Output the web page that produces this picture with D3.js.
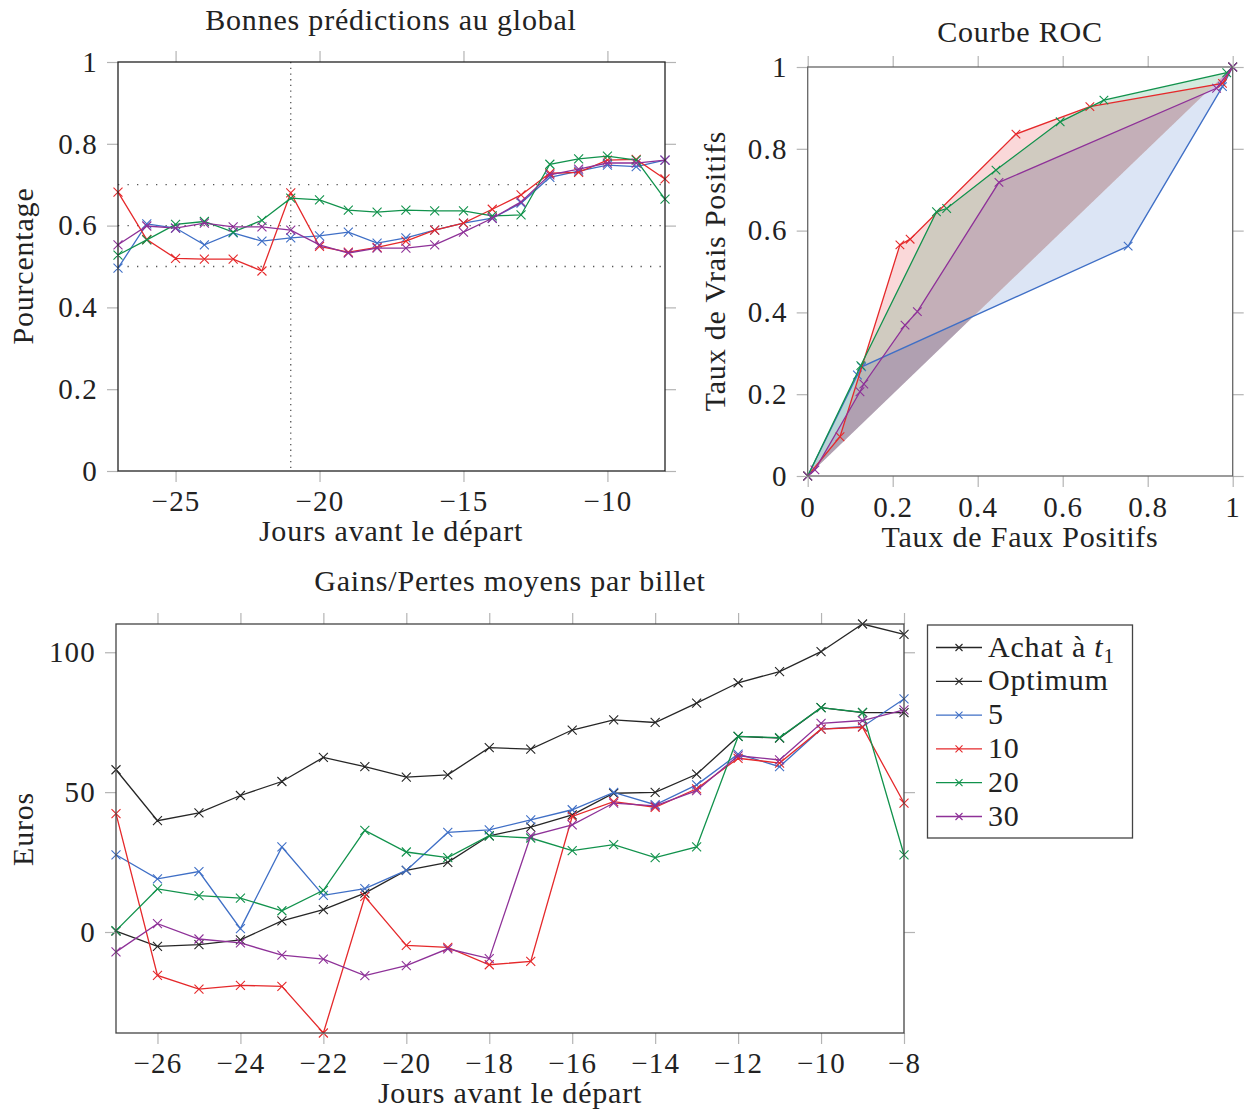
<!DOCTYPE html>
<html>
<head>
<meta charset="utf-8">
<script src="https://cdn.jsdelivr.net/npm/d3@7/dist/d3.min.js"></script>
<style>
  html, body { margin: 0; padding: 0; background: #fff; }
  svg { display: block; }
  text { font-family: "Liberation Serif", "DejaVu Serif", serif; fill: #222; }
</style>
</head>
<body>
<svg id="fig" width="1245" height="1109"></svg>
<script>
// ---- Data -----------------------------------------------------------------
const days = [-27, -26, -25, -24, -23, -22, -21, -20, -19, -18,
              -17, -16, -15, -14, -13, -12, -11, -10, -9, -8];

// Share of correct predictions per model window (5, 10, 20, 30)
const acc5  = [0.496, 0.604, 0.594, 0.553, 0.582, 0.562, 0.570, 0.575, 0.584, 0.557,
               0.570, 0.589, 0.606, 0.618, 0.655, 0.718, 0.733, 0.748, 0.744, 0.760];
const acc10 = [0.682, 0.566, 0.520, 0.518, 0.518, 0.489, 0.680, 0.549, 0.535, 0.547,
               0.562, 0.589, 0.606, 0.640, 0.675, 0.728, 0.730, 0.760, 0.762, 0.714];
const acc20 = [0.528, 0.565, 0.603, 0.610, 0.584, 0.613, 0.667, 0.663, 0.638, 0.633,
               0.638, 0.636, 0.636, 0.624, 0.626, 0.750, 0.763, 0.770, 0.760, 0.665];
const acc30 = [0.553, 0.599, 0.594, 0.606, 0.597, 0.597, 0.589, 0.553, 0.533, 0.545,
               0.545, 0.553, 0.584, 0.618, 0.658, 0.724, 0.738, 0.753, 0.753, 0.760];
const accRefLevels = [0.5, 0.6, 0.7];
const accRefDay = -21;

// ROC points (false positive rate, true positive rate)
const roc5  = [[0, 0], [0.117, 0.247], [0.127, 0.267], [0.754, 0.562], [0.976, 0.952], [1, 1]];
const roc10 = [[0, 0], [0.076, 0.096], [0.217, 0.565], [0.241, 0.579], [0.490, 0.836],
               [0.664, 0.903], [0.976, 0.960], [1, 1]];
const roc20 = [[0, 0], [0.125, 0.270], [0.303, 0.646], [0.327, 0.654], [0.443, 0.748],
               [0.594, 0.866], [0.697, 0.919], [0.986, 0.986], [1, 1]];
const roc30 = [[0, 0], [0.017, 0.015], [0.123, 0.206], [0.132, 0.225], [0.229, 0.369],
               [0.258, 0.402], [0.450, 0.718], [0.962, 0.948], [1, 1]];

// Mean gain / loss per ticket, in euros
const gainAchat   = [0.3, -5.1, -4.5, -2.8, 4.0, 8.0, 13.9, 22.0, 24.9, 34.4,
                     37.5, 41.9, 49.6, 49.9, 56.4, 69.9, 69.3, 80.2, 78.4, 78.4];
const gainOptimum = [58.0, 39.8, 42.6, 48.8, 53.8, 62.4, 59.1, 55.4, 56.2, 65.9,
                     65.4, 72.2, 75.8, 74.9, 81.8, 89.1, 93.1, 100.2, 110.1, 106.4];
const gain5  = [27.6, 19.0, 21.6, 1.2, 30.4, 13.1, 15.5, 22.0, 35.6, 36.5,
                40.1, 43.7, 49.9, 45.5, 52.6, 63.6, 59.1, 72.5, 73.4, 83.3];
const gain10 = [42.3, -15.5, -20.4, -19.1, -19.4, -36.1, 12.7, -4.8, -5.5, -11.7,
                -10.5, 41.3, 46.6, 44.6, 51.2, 62.1, 60.4, 72.5, 73.2, 46.1];
const gain20 = [0.5, 15.4, 13.0, 12.1, 7.6, 14.9, 36.3, 28.6, 26.6, 34.4,
                33.6, 29.1, 31.2, 26.6, 30.4, 69.9, 69.5, 80.2, 78.5, 27.6];
const gain30 = [-7.1, 3.0, -2.5, -3.9, -8.3, -9.7, -15.6, -12.0, -6.0, -9.5,
                34.4, 38.3, 46.1, 45.1, 50.5, 63.0, 61.5, 74.6, 75.6, 79.4];

// Labels and ticks
const accTitle = "Bonnes prédictions au global";
const accYLabel = "Pourcentage";
const dayLabel = "Jours avant le départ";
const accXTicks = [-25, -20, -15, -10];
const unitTicks = [0, 0.2, 0.4, 0.6, 0.8, 1];
const rocTitle = "Courbe ROC";
const rocXLabel = "Taux de Faux Positifs";
const rocYLabel = "Taux de Vrais Positifs";
const gainTitle = "Gains/Pertes moyens par billet";
const gainYLabel = "Euros";
const gainXTicks = [-26, -24, -22, -20, -18, -16, -14, -12, -10, -8];
const gainYTicks = [0, 50, 100];
const seriesNames = ["5", "10", "20", "30"];

// ---- Style ----------------------------------------------------------------
const C = { black: "#262626", blue: "#3f6fc6", red: "#e5292b", green: "#11924c", purple: "#8e3198" };
const FS = 30;          // titles, axis labels, legend
const FS_TICK = 29;     // tick labels
const LS = "0.8px";     // letter spacing for a wider, book-like text
const TICK = 11;

const svg = d3.select("#fig");
const fmtNum = d => {
  const s = String(+d.toFixed(2));
  return d < 0 ? "\u2212" + s.slice(1) : s;
};

function crossPath(px, py, r) {
  return `M${px - r},${py - r}L${px + r},${py + r}M${px - r},${py + r}L${px + r},${py - r}`;
}

// Frame with outward ticks mirrored on all four sides; labels left and bottom
function frame(g, x, y, xt, yt, frameColor, padX) {
  const [x0, x1] = x.range();
  const [y0, y1] = y.range();
  const tickStyle = sel => {
    sel.select(".domain").remove();
    sel.selectAll(".tick line").attr("stroke", "#b4b4b4").attr("stroke-width", 1.2);
    sel.selectAll(".tick text").style("font-size", FS_TICK + "px").attr("fill", "#222")
       .style("letter-spacing", "1.2px")
       .style("font-family", '"Liberation Serif", serif');
  };
  g.append("g").attr("transform", `translate(0,${y0})`)
    .call(d3.axisBottom(x).tickValues(xt).tickSize(TICK).tickPadding(padX).tickFormat(fmtNum)).call(tickStyle);
  g.append("g").attr("transform", `translate(0,${y1})`)
    .call(d3.axisTop(x).tickValues(xt).tickSize(TICK).tickFormat("")).call(tickStyle);
  g.append("g").attr("transform", `translate(${x0},0)`)
    .call(d3.axisLeft(y).tickValues(yt).tickSize(TICK).tickPadding(9).tickFormat(fmtNum)).call(tickStyle);
  g.append("g").attr("transform", `translate(${x1},0)`)
    .call(d3.axisRight(y).tickValues(yt).tickSize(TICK).tickFormat("")).call(tickStyle);
  g.append("rect")
    .attr("x", x0).attr("y", y1).attr("width", x1 - x0).attr("height", y0 - y1)
    .attr("fill", "none").attr("stroke", frameColor).attr("stroke-width", 1.3);
}

function series(g, pts, x, y, color, r) {
  const line = d3.line().x(d => x(d[0])).y(d => y(d[1]));
  g.append("path").datum(pts).attr("d", line)
    .attr("fill", "none").attr("stroke", color).attr("stroke-width", 1.3);
  g.append("path")
    .attr("d", pts.map(d => crossPath(x(d[0]), y(d[1]), r)).join(""))
    .attr("fill", "none").attr("stroke", color).attr("stroke-width", 1.1);
}

function label(g, txt, px, py, rotate) {
  const t = g.append("text").attr("text-anchor", "middle")
    .style("font-size", FS + "px").style("letter-spacing", LS).text(txt);
  if (rotate) t.attr("transform", `translate(${px},${py}) rotate(-90)`);
  else t.attr("x", px).attr("y", py);
  return t;
}

// ---- Top left: accuracy over time -----------------------------------------
{
  const g = svg.append("g");
  const x = d3.scaleLinear().domain([days[0], days[days.length - 1]]).range([118, 665]);
  const y = d3.scaleLinear().domain([0, 1]).range([471, 62]);

  g.append("g").selectAll("line").data(accRefLevels).join("line")
    .attr("x1", 118).attr("x2", 665).attr("y1", d => y(d)).attr("y2", d => y(d))
    .attr("stroke", "#555").attr("stroke-width", 1.3).attr("stroke-dasharray", "1.3,8.2");
  g.append("line")
    .attr("x1", x(accRefDay)).attr("x2", x(accRefDay)).attr("y1", y(1)).attr("y2", y(0))
    .attr("stroke", "#555").attr("stroke-width", 1.3).attr("stroke-dasharray", "1.3,4.4");

  [[acc5, C.blue], [acc10, C.red], [acc20, C.green], [acc30, C.purple]].forEach(([vals, col]) =>
    series(g, days.map((d, i) => [d, vals[i]]), x, y, col, 4.5));

  frame(g, x, y, accXTicks, unitTicks, "#222", 8);
  label(g, accTitle, 391, 30);
  label(g, dayLabel, 391, 541);
  label(g, accYLabel, 33, 266, true);
}

// ---- Top right: ROC curves ------------------------------------------------
{
  const g = svg.append("g");
  const x = d3.scaleLinear().domain([0, 1]).range([807.7, 1232.7]);
  const y = d3.scaleLinear().domain([0, 1]).range([476, 67]);
  const area = d3.line().x(d => x(d[0])).y(d => y(d[1]));

  [[roc5, C.blue], [roc10, C.red], [roc20, C.green], [roc30, C.purple]].forEach(([pts, col]) => {
    g.append("path").datum(pts).attr("d", d => area(d) + "Z")
      .attr("fill", col).attr("fill-opacity", 0.18).attr("stroke", "none");
  });
  [[roc5, C.blue], [roc10, C.red], [roc20, C.green], [roc30, C.purple]].forEach(([pts, col]) =>
    series(g, pts, x, y, col, 4.3));

  frame(g, x, y, unitTicks, unitTicks, "#666", 9);
  label(g, rocTitle, 1020, 42);
  label(g, rocXLabel, 1020, 547);
  label(g, rocYLabel, 725, 271, true);
}

// ---- Bottom: mean gains / losses --------------------------------------------
{
  const g = svg.append("g");
  const all = [gainAchat, gainOptimum, gain5, gain10, gain20, gain30].flat();
  const x = d3.scaleLinear().domain([days[0], days[days.length - 1]]).range([116, 904]);
  const y = d3.scaleLinear().domain([d3.min(all), d3.max(all)]).range([1033, 624]);

  const gainSeries = [
    ["Achat", gainAchat, C.black], ["Optimum", gainOptimum, C.black],
    [seriesNames[0], gain5, C.blue], [seriesNames[1], gain10, C.red],
    [seriesNames[2], gain20, C.green], [seriesNames[3], gain30, C.purple]
  ];
  gainSeries.forEach(([, vals, col]) =>
    series(g, days.map((d, i) => [d, vals[i]]), x, y, col, 4.5));

  frame(g, x, y, gainXTicks, gainYTicks, "#444", 8);
  label(g, gainTitle, 510, 591);
  label(g, dayLabel, 510, 1103);
  label(g, gainYLabel, 33, 829, true);

  // Legend
  const lg = g.append("g");
  lg.append("rect").attr("x", 927.5).attr("y", 625).attr("width", 205).attr("height", 213)
    .attr("fill", "#fff").attr("stroke", "#444").attr("stroke-width", 1.3);
  gainSeries.forEach(([name, , col], i) => {
    const cy = 647.5 + i * 33.8;
    lg.append("line").attr("x1", 936).attr("x2", 982).attr("y1", cy).attr("y2", cy)
      .attr("stroke", col).attr("stroke-width", 1.3);
    lg.append("path").attr("d", crossPath(959, cy, 3.5))
      .attr("fill", "none").attr("stroke", col).attr("stroke-width", 1.1);
    const t = lg.append("text").attr("x", 988).attr("y", cy + 9)
      .style("font-size", FS + "px").style("letter-spacing", LS);
    if (i === 0) {
      t.append("tspan").text("Achat à ");
      t.append("tspan").attr("font-style", "italic").text("t");
      t.append("tspan").attr("dy", 6).style("font-size", "21px").text("1");
    } else {
      t.text(name);
    }
  });
}
</script>
</body>
</html>
